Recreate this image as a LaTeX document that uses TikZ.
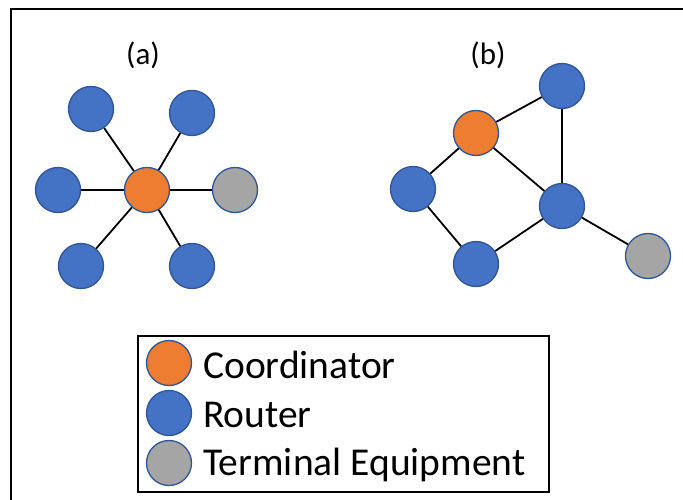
\documentclass[tikz,border=0pt]{standalone}
\usepackage{fontspec}
\setmainfont{Carlito}
\definecolor{coordorange}{HTML}{ED7D31}
\definecolor{routerblue}{HTML}{4472C4}
\definecolor{termgray}{HTML}{A5A5A5}
\definecolor{rimblue}{HTML}{2F5597}
\tikzset{
  dev/.style={circle, draw=rimblue, line width=1.3pt, minimum size=45pt, inner sep=0pt},
  coord/.style={dev, fill=coordorange},
  router/.style={dev, fill=routerblue},
  term/.style={dev, fill=termgray},
  link/.style={line width=1.8pt, black},
  caption/.style={font=\fontsize{31}{36}\selectfont, inner sep=0pt},
  legendtext/.style={font=\fontsize{39.5}{45}\selectfont, anchor=west, inner sep=0pt}
}
\begin{document}
\begin{tikzpicture}[x=1pt, y=-1pt]
\useasboundingbox (0,0) rectangle (683,500);
\begin{scope}
\clip (0,0) rectangle (683,500);
\draw[line width=2pt] (11,9) rectangle (700,520);
\end{scope}

% (a) star topology
\node[caption] (capa) at (143,55) {(a)};
\node[router] (a1) at (91,109) {};
\node[router] (a2) at (192,113) {};
\node[router] (a3) at (58,190) {};
\node[term]   (a4) at (235,190) {};
\node[router] (a5) at (81,266) {};
\node[router] (a6) at (192,266) {};
\node[coord]  (ac) at (147,190) {};
\foreach \n in {a1,a2,a3,a4,a5,a6}
  \draw[link] (ac) -- (\n);

% (b) mesh topology
\node[caption] (capb) at (488,55) {(b)};
\node[coord]  (bc) at (476,133) {};
\node[router] (bt) at (562,86) {};
\node[router] (bl) at (413,189) {};
\node[router] (bm) at (562,206) {};
\node[router] (bb) at (476,264) {};
\node[term]   (bg) at (648,256) {};
\draw[link] (bc) -- (bl);
\draw[link] (bc) -- (bt);
\draw[link] (bc) -- (bm);
\draw[link] (bt) -- (bm);
\draw[link] (bl) -- (bb);
\draw[link] (bb) -- (bm);
\draw[link] (bm) -- (bg);

% legend
\node[draw, line width=1.6pt, minimum width=411pt, minimum height=156pt, anchor=north west, inner sep=0pt] (legend) at (137,335) {};
\node[coord]  (lc) at (169,363) {};
\node[router] (lr) at (169,413) {};
\node[term]   (lt) at (169,463) {};
\node[legendtext] (tc) at (203,365) {Coordinator};
\node[legendtext] (tr) at (203,415) {Router};
\node[legendtext] (tt) at (203,465) {Terminal Equipment};
\end{tikzpicture}
\end{document}
